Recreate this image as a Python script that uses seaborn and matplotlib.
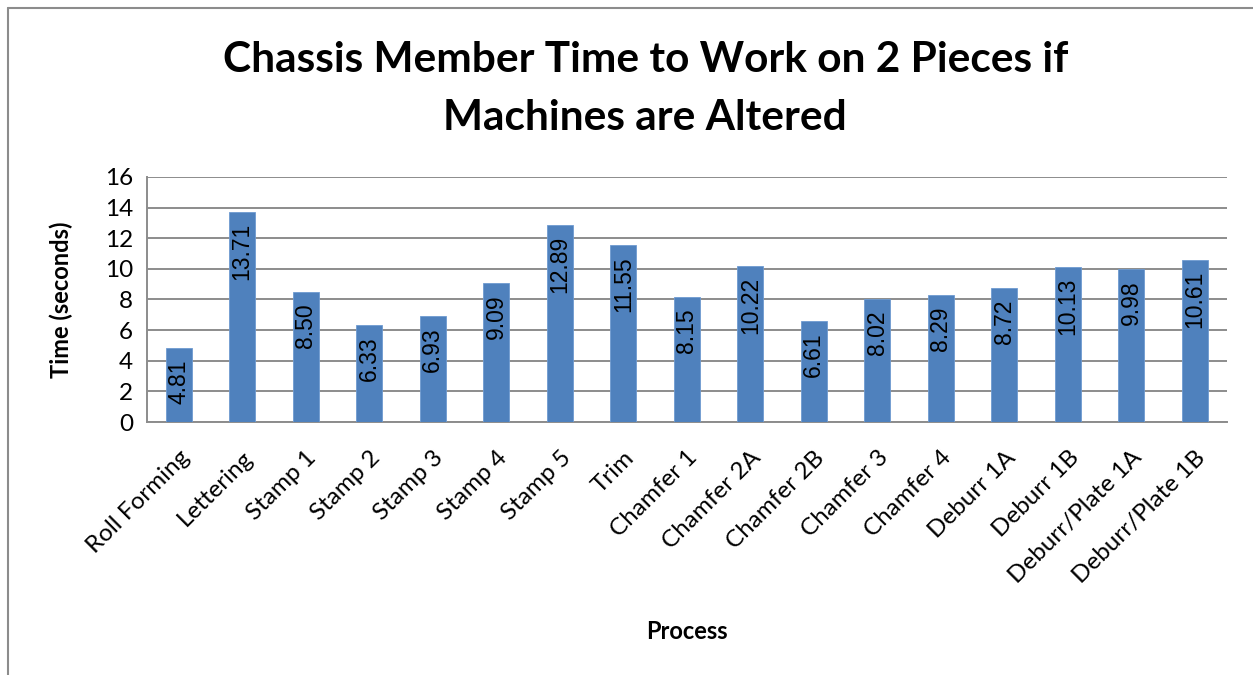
import numpy as np
import pandas as pd
import matplotlib
matplotlib.use('Agg')
import matplotlib.pyplot as plt
from matplotlib.lines import Line2D
import seaborn as sns

# --- DATA ---
processes = ['Roll Forming', 'Lettering', 'Stamp 1', 'Stamp 2', 'Stamp 3', 'Stamp 4',
             'Stamp 5', 'Trim', 'Chamfer 1', 'Chamfer 2A', 'Chamfer 2B', 'Chamfer 3',
             'Chamfer 4', 'Deburr 1A', 'Deburr 1B', 'Deburr/Plate 1A', 'Deburr/Plate 1B']
times = [4.81, 13.71, 8.50, 6.33, 6.93, 9.09, 12.89, 11.55, 8.15, 10.22, 6.61,
         8.02, 8.29, 8.72, 10.13, 9.98, 10.61]
y_ticks = [0, 2, 4, 6, 8, 10, 12, 14, 16]

BAR_COLOR = '#4F81BD'
GRID_COLOR = '#8C8C8C'

df = pd.DataFrame({'Process': processes, 'Time': times})

sns.set_style('white')
plt.rcParams['font.family'] = ['Lato', 'DejaVu Sans']
plt.rcParams['text.color'] = 'black'
plt.rcParams['axes.labelcolor'] = 'black'
plt.rcParams['xtick.labelcolor'] = 'black'
plt.rcParams['ytick.labelcolor'] = 'black'

fig = plt.figure(figsize=(12.53, 6.75), dpi=100)
ax = fig.add_axes([0.1173, 0.3748, 0.979 - 0.1173, 0.7378 - 0.3748])

sns.barplot(data=df, x='Process', y='Time', color=BAR_COLOR, width=0.41,
            saturation=1, edgecolor='#6F9BD1', linewidth=0.6, ax=ax, zorder=3)

ax.set_xlim(-0.5, len(processes) - 0.5)
ax.set_ylim(0, 16)
ax.set_yticks(y_ticks)
ax.set_yticklabels([str(t) for t in y_ticks], fontsize=17.5)
ax.yaxis.grid(True, color=GRID_COLOR, linewidth=1.4, zorder=0)
ax.set_axisbelow(True)

# category labels
ax.set_xticks(range(len(processes)))
ax.set_xticklabels(processes, rotation=45, ha='right', rotation_mode='anchor', fontsize=17.5)
ax.tick_params(axis='x', which='major', length=0, pad=18, labelcolor='black')
# tick marks at category boundaries
ax.set_xticks(np.arange(-0.5, len(processes), 1.0), minor=True)
ax.tick_params(axis='x', which='minor', length=6, width=1.2, color=GRID_COLOR, direction='out')
ax.tick_params(axis='y', length=6, width=1.2, color=GRID_COLOR, direction='out', pad=4,
               labelcolor='black')

for side in ['top', 'right']:
    ax.spines[side].set_visible(False)
for side in ['left', 'bottom']:
    ax.spines[side].set_color(GRID_COLOR)
    ax.spines[side].set_linewidth(1.4)

# value labels inside bar end
for i, v in enumerate(times):
    ax.annotate(f'{v:.2f}', xy=(i, v), xytext=(0, -8), textcoords='offset points',
                rotation=90, ha='center', va='top', fontsize=16.5,
                family=['Liberation Sans', 'DejaVu Sans'], color='black', zorder=4)

ax.set_ylabel('Time (seconds)', fontsize=17, fontweight='bold', color='black')
ax.yaxis.set_label_coords(-0.068, 0.5)
ax.set_xlabel('Process', fontsize=17, fontweight='bold', color='black')
ax.xaxis.set_label_coords(0.5, -0.81)

fig.text(0.515, 0.868, 'Chassis Member Time to Work on 2 Pieces if\nMachines are Altered',
         ha='center', va='center', fontsize=30.5, fontweight='bold', linespacing=1.65,
         color='black')

# chart area border (left and top edges visible)
fig.add_artist(Line2D([8 / 1253, 8 / 1253], [0, 1 - 8 / 675], transform=fig.transFigure,
                      color='#8C8C8C', linewidth=1.5))
fig.add_artist(Line2D([8 / 1253, 1], [1 - 8 / 675, 1 - 8 / 675], transform=fig.transFigure,
                      color='#8C8C8C', linewidth=1.5))

fig.savefig('out.png', dpi=100)
